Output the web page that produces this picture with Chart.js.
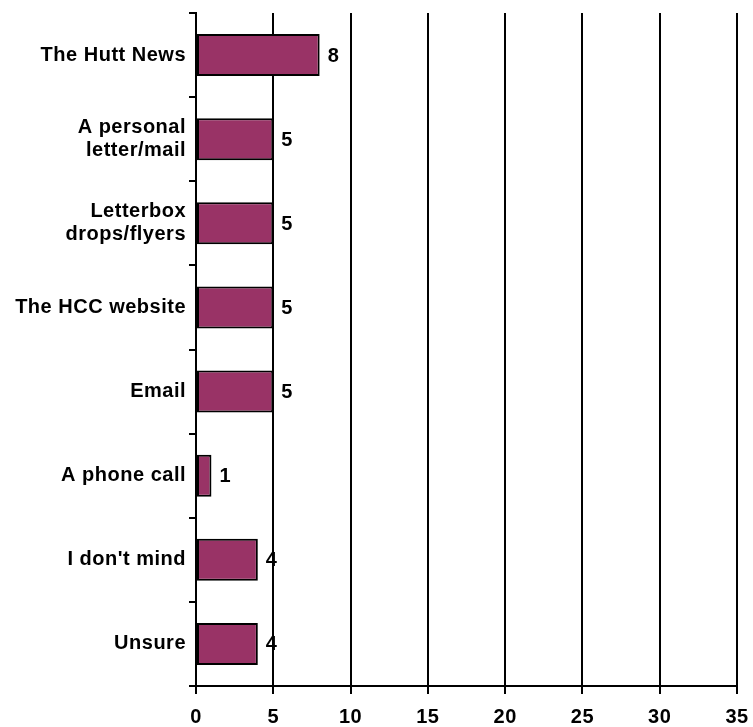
<!DOCTYPE html>
<html>
<head>
<meta charset="utf-8">
<script src="https://cdn.jsdelivr.net/npm/chart.js@4/dist/chart.umd.min.js"></script>
<style>
html,body{margin:0;padding:0;background:#fff;}
#wrap{width:753px;height:727px;}
</style>
</head>
<body>
<div id="wrap"><canvas id="c" width="753" height="727"></canvas></div>
<script>
const categories = [
  "The Hutt News",
  ["A personal", "letter/mail"],
  ["Letterbox", "drops/flyers"],
  "The HCC website",
  "Email",
  "A phone call",
  "I don't mind",
  "Unsure"
];
const values = [8, 5, 5, 5, 5, 1, 4, 4];
const xTicks = [0, 5, 10, 15, 20, 25, 30, 35];

const font = {family: "'Liberation Sans', Arial, sans-serif", size: 20, weight: "bold", lineHeight: 1.15};

const spacing = {
  id: 'spacing',
  beforeDraw(chart) { chart.ctx.letterSpacing = '0.5px'; }
};

const valueLabels = {
  id: 'valueLabels',
  afterDatasetsDraw(chart) {
    const ctx = chart.ctx;
    const meta = chart.getDatasetMeta(0);
    ctx.save();
    ctx.font = "bold 20px 'Liberation Sans', Arial, sans-serif";
    ctx.fillStyle = '#000';
    ctx.textBaseline = 'middle';
    ctx.textAlign = 'left';
    meta.data.forEach((bar, i) => {
      ctx.fillText(String(values[i]), bar.x + 8, bar.y + 1);
    });
    ctx.restore();
  }
};

new Chart(document.getElementById('c'), {
  type: 'bar',
  data: {
    labels: categories,
    datasets: [{
      data: values,
      backgroundColor: '#993366',
      borderColor: '#000',
      borderWidth: 2,
      borderSkipped: false,
      categoryPercentage: 1.0,
      barPercentage: 0.5
    }]
  },
  options: {
    indexAxis: 'y',
    responsive: false,
    animation: false,
    layout: {padding: {top: 13, right: 16, left: 0, bottom: 0}},
    plugins: {legend: {display: false}, tooltip: {enabled: false}},
    scales: {
      x: {
        min: 0, max: 35,
        afterBuildTicks(scale) { scale.ticks = xTicks.map(v => ({value: v})); },
        afterFit(scale) { scale.height = 41; scale.paddingLeft = 0; scale.paddingRight = 0; },
        grid: {color: '#000', lineWidth: 2, tickLength: 8, drawTicks: true},
        border: {color: '#000', width: 2},
        ticks: {color: '#000', font: font, padding: 12, maxRotation: 0}
      },
      y: {
        afterFit(scale) { scale.width = 196; scale.paddingTop = 0; scale.paddingBottom = 0; },
        grid: {color: '#000', lineWidth: 2, tickLength: 7, drawOnChartArea: false, offset: true},
        border: {color: '#000', width: 2},
        ticks: {color: '#000', font: font, padding: 3}
      }
    }
  },
  plugins: [spacing, valueLabels]
});
</script>
</body>
</html>
